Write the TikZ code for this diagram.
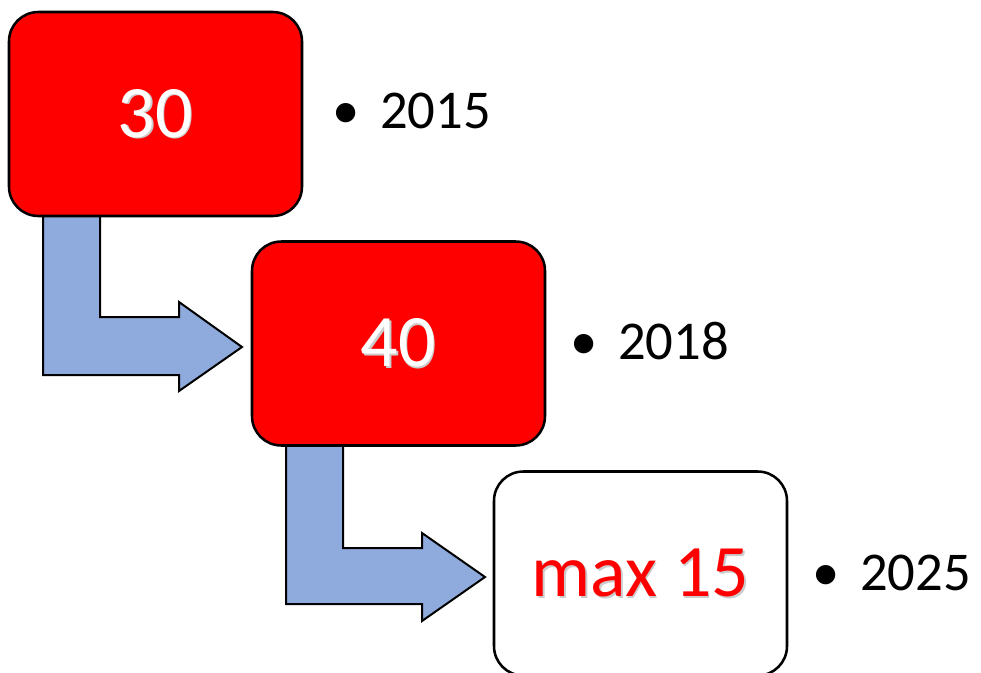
\documentclass[tikz,border=0pt]{standalone}
\usepackage{fontspec}
\setmainfont{Carlito}
\definecolor{boxred}{HTML}{FF0000}
\definecolor{arrowblue}{HTML}{8FAADC}
\newcommand\shtext[1]{\makebox[0pt][l]{\hspace{1pt}\raisebox{-1pt}{\textcolor{black!20}{#1}}}#1}
\tikzset{
  yearbox/.style={draw=black, line width=1.9pt, rounded corners=22pt,
    minimum width=219.75pt, minimum height=153pt, inner sep=0pt,
    text height=35pt, text depth=0pt, font=\fontsize{55.5}{60}\selectfont},
  redbox/.style={yearbox, fill=boxred, text=white},
  whitebox/.style={yearbox, fill=white, text=boxred},
  bentarrow/.style={draw=black, line width=1.5pt, fill=arrowblue, line join=miter},
  yearlabel/.style={anchor=base west, inner sep=0pt, font=\fontsize{41}{46}\selectfont}
}
\begin{document}
\begin{tikzpicture}[x=0.75pt,y=-0.75pt]
\useasboundingbox (0,0) rectangle (981,672);
% bent arrows
\draw[bentarrow] (43,214) -- (100,214) -- (100,317) -- (179,317) -- (179,302) -- (242,347) -- (179,391) -- (179,375) -- (43,375) -- cycle;
\draw[bentarrow] (286,443) -- (343,443) -- (343,548) -- (422,548) -- (422,533) -- (485,577) -- (422,621) -- (422,604) -- (286,604) -- cycle;
% boxes
\node[redbox] (b1) at (155.5,114) {\shtext{30}};
\node[redbox] (b2) at (398.5,343.5) {\shtext{40}};
\node[whitebox] (b3) at (640.5,573.5) {\shtext{max 15}};
% labels
\node[yearlabel] (l1) at (332,128) {\makebox[36pt][l]{•}2015};
\node[yearlabel] (l2) at (570,359) {\makebox[36pt][l]{•}2018};
\node[yearlabel] (l3) at (812,590) {\makebox[36pt][l]{•}2025};
\end{tikzpicture}
\end{document}
